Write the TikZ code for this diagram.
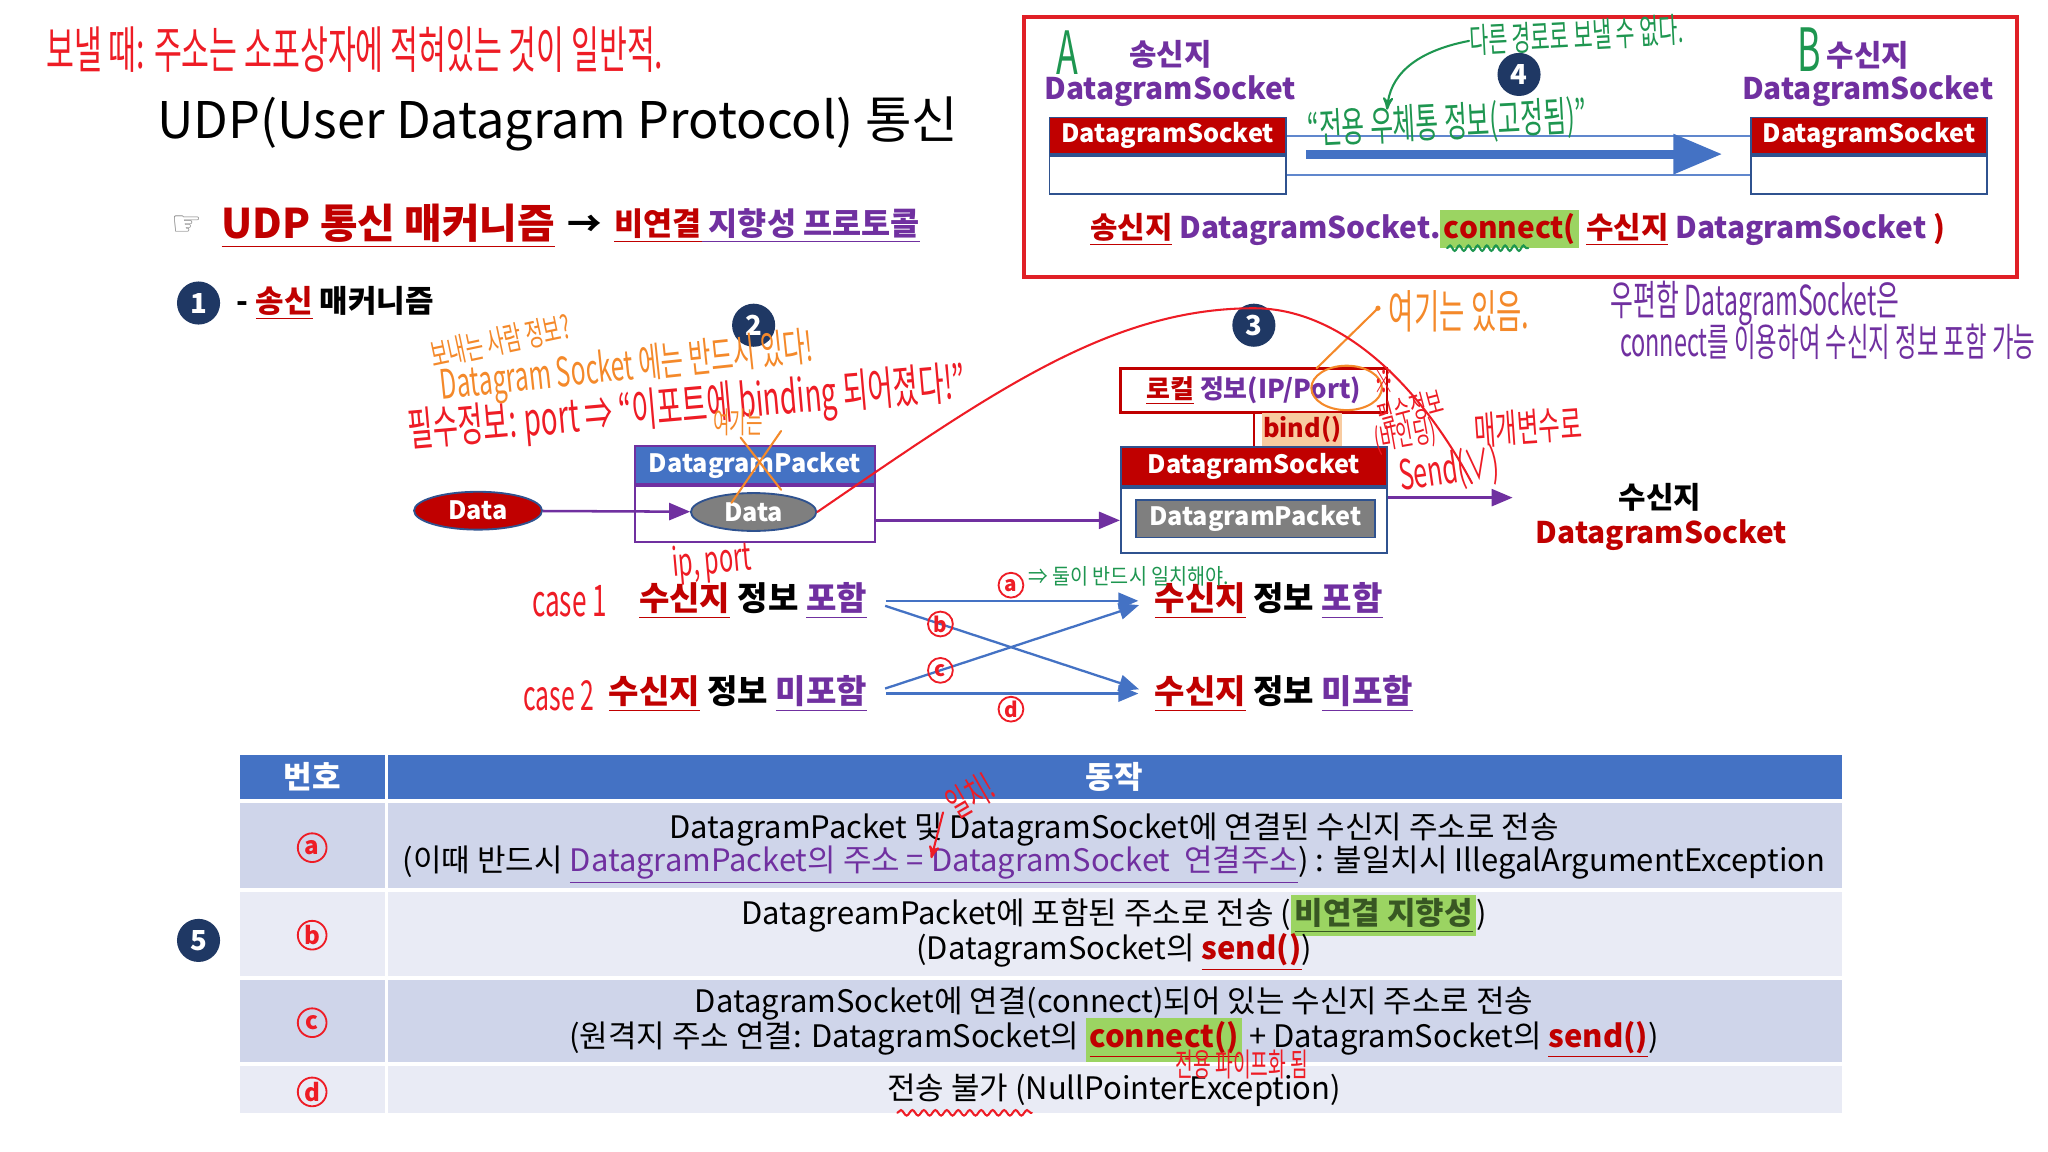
\documentclass[tikz,border=0pt]{standalone}
\usepackage{fontspec}
\setmainfont{Noto Sans CJK KR}
\newfontfamily\hand[FakeStretch=0.6]{Noto Sans CJK KR}
\newfontfamily\handw[FakeStretch=0.9]{Noto Sans CJK KR}
\newfontfamily\symf{DejaVu Sans}
\usepackage{tikz}
\usetikzlibrary{positioning, arrows, shapes.geometric, decorations.pathmorphing}
\newcommand\fsz[1]{\fontsize{#1}{#1}\selectfont}
\setlength\fboxsep{1.5pt}
\definecolor{dred}{HTML}{C00000}
\definecolor{purp}{HTML}{7030A0}
\definecolor{navy}{HTML}{1F3864}
\definecolor{tblue}{HTML}{4472C4}
\definecolor{sline}{HTML}{2F528F}
\definecolor{rowA}{HTML}{CFD5EA}
\definecolor{rowB}{HTML}{E9EBF5}
\definecolor{pgray}{HTML}{7F7F7F}
\definecolor{peach}{HTML}{F8CBA0}
\definecolor{hlgreen}{HTML}{9BD462}
\definecolor{dgreen}{HTML}{385723}
\definecolor{hred}{HTML}{EE1C25}
\definecolor{horange}{HTML}{F4892A}
\definecolor{hgreen}{HTML}{1E9650}
\definecolor{boxred}{HTML}{E01F26}
\tikzset{
  numdot/.style={circle, fill=navy, text=white, font=\bfseries\fsz{12}, minimum size=0.66cm, inner sep=0pt},
  hdr/.style={draw=sline, fill=dred, text=white, font=\bfseries\fsz{11}, inner sep=0pt, line width=0.8pt},
  sbody/.style={draw=sline, fill=white, inner sep=0pt, line width=0.8pt},
  grayrec/.style={draw=sline, fill=pgray, text=white, font=\bfseries\fsz{11}, inner sep=0pt, line width=0.8pt},
  dell/.style={ellipse, draw=sline, text=white, font=\bfseries\fsz{11}, minimum width=1.96cm, minimum height=0.58cm, inner sep=0pt, line width=0.8pt},
  parr/.style={-triangle 45, draw=purp, line width=1.1pt},
  barr/.style={-triangle 45, draw=tblue, line width=1pt, shorten <=7pt, shorten >=6pt},
  cl/.style={circle, draw=hred, text=hred, font=\bfseries\fsz{9}, inner sep=0pt, minimum size=0.38cm, line width=0.8pt},
  caserow/.style={font=\bfseries\fsz{14.4}, inner sep=1pt},
  cell/.style={font=\fsz{13.5}, inner sep=0pt},
  hnote/.style={font=\hand\fsz{#1}, inner sep=0pt},
  hline/.style={line width=0.9pt, line cap=round},
}

\begin{document}
\begin{tikzpicture}[x=0.02cm, y=-0.02cm]
\useasboundingbox (0,0) rectangle (1568,882);
\fill[white] (0,0) rectangle (1568,882);

% heading
\node[hnote=22, text=hred, anchor=west] (memo) at (35,38) {보낼 때: 주소는 소포상자에 적혀있는 것이 일반적.};
\node[font=\fsz{22}, anchor=west, inner sep=0pt] (title) at (120,95) {UDP(User Datagram Protocol) 통신};
\node[font=\symf\fsz{15}, text=pgray, anchor=west, inner sep=0pt] (finger) at (131,173) {☞};
\node[font=\bfseries\fsz{17.8}, text=dred, inner sep=0pt, right=8pt of finger] (mech) {\underline{UDP 통신 매커니즘}};
\node[font=\bfseries\fsz{15}, inner sep=0pt, right=5pt of mech] (goes) {→};
\node[font=\bfseries\fsz{13.8}, inner sep=0pt, right=5pt of goes] (kind) {{\color{dred}\underline{비연결}}{\color{purp}\underline{ 지향성 프로토콜}}};

% connect box
\draw[boxred, line width=1.6pt] (784,13) rectangle (1544,212);
\node[hnote=26, text=hgreen] (la) at (817,40) {A};
\node[font=\bfseries\fsz{13}, text=purp] (snd) at (896,42) {송신지};
\node[font=\bfseries\fsz{13}, text=purp] (sndt) at (896,70) {DatagramSocket};
\node[hdr, minimum width=3.62cm, minimum height=0.56cm] (sa) at (894,104) {DatagramSocket};
\node[sbody, minimum width=3.62cm, minimum height=0.58cm, below=0pt of sa] (ba) {};
\node[hnote=26, text=hgreen] (lb) at (1385,38) {B};
\node[font=\bfseries\fsz{13}, text=purp] (rcvn) at (1430,42) {수신지};
\node[font=\bfseries\fsz{13}, text=purp] (rcvt) at (1430,70) {DatagramSocket};
\node[hdr, minimum width=3.62cm, minimum height=0.56cm] (sb) at (1431,104) {DatagramSocket};
\node[sbody, minimum width=3.62cm, minimum height=0.58cm, below=0pt of sb] (bb) {};
\draw[tblue!85, line width=1pt] (sa.east) -- (sb.west);
\draw[tblue!85, line width=1pt] (ba.east) -- (bb.west);
\coordinate (pl) at (1000,118);
\coordinate (pr) at (1318,118);
\draw[tblue, line width=4pt, -triangle 45] (pl) -- (pr);
\node[numdot] (n4) at (1163,57) {4};
\node[font=\bfseries\fsz{13}] (conn) at (1162,175) {{\color{dred}\underline{송신지}} {\color{purp}DatagramSocket.}\colorbox{hlgreen}{\color{dred}connect(} {\color{dred}\underline{수신지}} {\color{purp}DatagramSocket} {\color{dred})}};
\node[hnote=15, text=hgreen, rotate=3] (other) at (1207,27) {다른 경로로 보낼 수 없다.};
\draw[hgreen, hline, ->, >=stealth'] (other.west) .. controls (1080,40) and (1064,60) .. (1062,84);
\node[hnote=18, text=hgreen, rotate=3] (fixed) at (1108,95) {“전용 우체통 정보(고정됨)”};
\draw[hgreen, hline, decorate, decoration={snake, amplitude=1.2pt, segment length=4pt}] (1108,190) -- (1170,190);

% send mechanism
\node[numdot] (n1) at (152,232) {1};
\node[font=\bfseries\fsz{13.5}, anchor=west, inner sep=0pt] (send) at (181,232) {- {\color{dred}\underline{송신}} 매커니즘};
\node[numdot] (n2) at (577,249) {2};
\node[numdot] (n3) at (960,249) {3};

\node[dell, fill=dred] (data) at (366,391) {Data};
\node[hdr, fill=tblue, draw=purp, minimum width=3.68cm, minimum height=0.58cm] (pkh) at (578,356) {DatagramPacket};
\node[sbody, draw=purp, minimum width=3.68cm, minimum height=0.86cm, below=0pt of pkh] (pkb) {};
\node[dell, fill=pgray, minimum width=1.92cm] (pdata) at (577,392) {Data};
\draw[parr] (data) -- (pdata);

\node[draw=dred, line width=1.2pt, fill=white, font=\bfseries\fsz{11.3}, minimum width=4.08cm, minimum height=0.68cm, inner sep=0pt] (loc) at (960,299) {{\color{dred}\underline{로컬}} {\color{purp}정보(IP/Port)}};
\node[hdr, minimum width=4.08cm, minimum height=0.6cm] (sock) at (960,357) {DatagramSocket};
\node[sbody, minimum width=4.08cm, minimum height=1.0cm, below=0pt of sock] (sockb) {};
\node[grayrec, minimum width=3.66cm, minimum height=0.58cm] (spkt) at (961,397) {DatagramPacket};
\node[fill=peach, text=dred, font=\bfseries\fsz{11}, minimum width=1.22cm, minimum height=0.5cm, inner sep=0pt] (bind) at (997,329) {bind()};
\draw[dred, line width=1.2pt] (loc.south) -- (sock.north);
\draw[parr] (pkb.east |- sockb.west) -- (sockb.west);
\coordinate (rcv) at (1158,381);
\draw[parr] (sockb.east |- rcv) -- (rcv);
\node[font=\bfseries\fsz{13}] (rname) at (1271,381) {수신지};
\node[font=\bfseries\fsz{13}, text=dred] (rsock) at (1272,410) {DatagramSocket};

% cases
\node[caserow, anchor=east] (c1l) at (666,460) {{\color{dred}\underline{수신지}} 정보 {\color{purp}\underline{포함}}};
\node[caserow, anchor=east] (c2l) at (666,531) {{\color{dred}\underline{수신지}} 정보 {\color{purp}\underline{미포함}}};
\node[caserow, anchor=west] (c1r) at (882,460) {{\color{dred}\underline{수신지}} 정보 {\color{purp}\underline{포함}}};
\node[caserow, anchor=west] (c2r) at (882,531) {{\color{dred}\underline{수신지}} 정보 {\color{purp}\underline{미포함}}};
\draw[barr] (c1l.east) -- node[cl, above=1pt] {a} (c1r.west);
\draw[barr] (c1l.east) -- node[cl, pos=.25] {b} (c2r.west);
\draw[barr] (c2l.east) -- node[cl, pos=.25] {c} (c1r.west);
\draw[barr] (c2l.east) -- node[cl, below=1pt] {d} (c2r.west);
\node[hnote=19, text=hred] (case1) at (436,460) {case 1};
\node[hnote=18, text=hred] (case2) at (428,533) {case 2};
\node[hnote=17, text=hred, rotate=5] (ipp) at (545,431) {ip, port};
\node[font=\handw\fsz{9.5}, inner sep=0pt, text=hgreen, anchor=west] (both) at (787,441) {⇒ 둘이 반드시 일치해야.};

% table
\fill[tblue] (184,578) rectangle (1410,612);
\foreach \ya/\yb/\rc in {615/680/rowA, 683/747/rowB, 750/813/rowA, 816/852/rowB}
  \fill[\rc] (184,\ya) rectangle (1410,\yb);
\draw[white, line width=1.5pt] (296,578) -- (296,852);
\node[font=\bfseries\fsz{13.5}, text=white] (hno) at (239,595) {번호};
\node[font=\bfseries\fsz{13.5}, text=white] (hact) at (853,595) {동작};
\foreach \l/\y in {a/649, b/716, c/783, d/836}
  \node[cl, minimum size=0.44cm, font=\bfseries\fsz{10.5}] (l\l) at (239,\y) {\l};
\node[cell] (ra1) at (853,635) {DatagramPacket 및 DatagramSocket에 연결된 수신지 주소로 전송};
\node[cell] (ra2) at (853,662) {(이때 반드시 {\color{purp}\underline{DatagramPacket의 주소 = DatagramSocket\ \ 연결주소}}) : 불일치시 IllegalArgumentException};
\node[cell] (rb1) at (853,701) {DatagreamPacket에 포함된 주소로 전송 (\colorbox{hlgreen}{\bfseries\color{dgreen}\underline{비연결 지향성}})};
\node[cell] (rb2) at (853,729) {(DatagramSocket의 {\bfseries\color{dred}\underline{send()}})};
\node[cell] (rc1) at (853,768) {DatagramSocket에 연결(connect)되어 있는 수신지 주소로 전송};
\node[cell] (rc2) at (853,796) {(원격지 주소 연결: DatagramSocket의 \colorbox{hlgreen}{\bfseries\color{dred}\underline{connect()}} + DatagramSocket의 {\bfseries\color{dred}\underline{send()}})};
\node[cell] (rd) at (853,835) {전송 불가 (NullPointerException)};
\node[numdot] (n5) at (152,720) {5};

% hand notes
\node[hnote=14, text=horange, rotate=12] (who) at (383,261) {보내는 사람 정보?};
\node[hnote=17.7, text=horange, rotate=6, anchor=west] (must) at (337,297) {Datagram Socket 에는 반드시 있다!};
\node[hnote=20, text=hred, rotate=5, anchor=west] (req) at (312,332) {필수정보: port ⇒ “이포트에 binding 되어졌다!”};
\node[hnote=13, text=horange] (here) at (565,323) {여기는};
\draw[horange, hline] (567,335) -- (598,375) (598,330) -- (560,385);
\draw[horange, hline] (1031,297) ellipse [x radius=27, y radius=17];
\draw[horange, hline] (1008,282) -- (1055,236);
\fill[horange] (1055,236) circle [radius=2];
\node[hnote=20, text=horange, anchor=west] (yes) at (1063,238) {여기는 있음.};
\node[hnote=14, text=hred] (mk) at (1060,292) {※};
\node[hnote=13, text=hred, rotate=15] (req2) at (1080,313) {필수정보};
\node[hnote=13, text=hred, rotate=10] (bnd) at (1076,334) {(바인딩)};
\node[hnote=17, text=hred, rotate=4] (param) at (1170,327) {매개변수로};
\node[hnote=18, text=hred, rotate=8, anchor=west] (sendv) at (1071,366) {Send(∨)};
\draw[hred, hline] (pdata.east) .. controls (760,300) and (850,236) .. (960,236) .. controls (1030,236) and (1090,300) .. (1127,370);
\node[hnote=18, text=purp, anchor=west] (pb1) at (1233,232) {우편함 DatagramSocket은};
\node[hnote=17, text=purp, anchor=west] (pb2) at (1240,262) {connect를 이용하여 수신지 정보 포함 가능};
\node[hnote=16, text=hred, rotate=30] (same) at (743,609) {일치!};
\draw[hred, hline, ->, >=stealth'] (722,622) -- (713,657);
\node[hnote=14, text=hred] (pipe) at (951,815) {전용 파이프화 됨};
\draw[hred, hline, decorate, decoration={snake, amplitude=1.2pt, segment length=5pt}] (687,852) -- (790,852);
\end{tikzpicture}
\end{document}
